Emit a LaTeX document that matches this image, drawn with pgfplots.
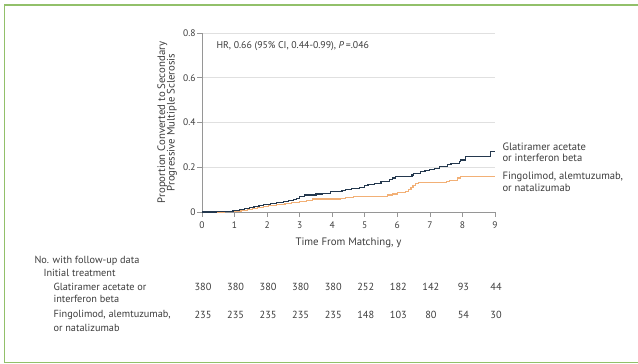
\documentclass[border=0pt]{standalone}
\usepackage{pgfplots}
\pgfplotsset{compat=1.18}
\usepackage{pgfplotstable}
\usepackage{fontspec}
\setmainfont{PT Sans}
\definecolor{framegreen}{RGB}{146,192,106}
\definecolor{glat}{RGB}{36,56,78}
\definecolor{fingo}{RGB}{242,176,118}
\definecolor{txt}{RGB}{60,60,60}
\definecolor{axgray}{RGB}{150,150,150}

\pgfplotstableread{
x y
0 0
0.45 0.003
0.95 0.005
1.15 0.01
1.3 0.014
1.45 0.02
1.6 0.025
1.75 0.03
1.9 0.035
2.1 0.038
2.3 0.041
2.5 0.046
2.65 0.05
2.8 0.056
2.9 0.061
3.0 0.068
3.15 0.076
3.5 0.08
3.7 0.083
3.95 0.09
4.3 0.096
4.4 0.101
4.6 0.106
4.85 0.11
5.0 0.118
5.1 0.124
5.3 0.128
5.5 0.135
5.75 0.145
5.85 0.152
5.95 0.158
6.45 0.165
6.5 0.173
6.7 0.18
6.85 0.185
7.0 0.19
7.15 0.196
7.3 0.205
7.55 0.212
7.65 0.217
7.9 0.225
7.95 0.232
8.1 0.247
8.85 0.27
9.0 0.27
}\glatdata

\pgfplotstableread{
x y
0 0
0.7 0.002
1.2 0.005
1.4 0.01
1.55 0.015
1.7 0.02
1.9 0.025
2.05 0.029
2.3 0.033
2.55 0.038
2.75 0.043
3.0 0.048
3.2 0.053
3.4 0.058
4.25 0.062
4.4 0.065
4.65 0.068
4.95 0.071
5.7 0.076
5.85 0.08
6.0 0.088
6.25 0.092
6.35 0.1
6.42 0.11
6.48 0.12
6.55 0.128
6.65 0.131
7.5 0.135
7.6 0.142
7.85 0.152
7.95 0.16
9.0 0.16
}\fingodata

\begin{document}
\begin{tikzpicture}[x=1pt,y=1pt,font=\fontsize{10.3}{12}\selectfont,text=txt]
\useasboundingbox (0,0) rectangle (638,364);
% frame (open at the right)
\draw[framegreen, line width=1.4pt] (660,359) -- (4.5,359) -- (4.5,1.5) -- (660,1.5);

\begin{axis}[
  at={(202pt,152pt)}, anchor=south west,
  scale only axis, width=293pt, height=179pt,
  xmin=0, xmax=9, ymin=0, ymax=0.8,
  axis x line*=bottom, axis y line*=left,
  axis line style={-, axgray, line width=0.6pt},
  xtick={0,1,...,9}, ytick={0,0.2,0.4,0.6,0.8},
  yticklabels={0,0.2,0.4,0.6,0.8},
  tick align=outside, major tick length=5pt,
  tick style={axgray, line width=0.6pt},
  ymajorgrids, grid style={black!12, line width=0.6pt},
  /pgf/number format/assume math mode=true,
  ticklabel style={font=\fontsize{9.5}{11}\selectfont, text=txt},
  xticklabel style={yshift=-1pt},
  yticklabel style={xshift=2pt},
  xlabel={Time From Matching, y},
  xlabel style={font=\fontsize{10.8}{12}\selectfont, text=txt, yshift=-3pt},
  ylabel={\begin{tabular}{c}Proportion Converted to Secondary\\[-2.5pt]Progressive Multiple Sclerosis\end{tabular}},
  ylabel style={font=\fontsize{10.8}{12}\selectfont, text=txt, yshift=-2pt},
  clip=false,
]
\addplot[const plot, fingo, line width=1.2pt] table[x=x,y=y] {\fingodata};
\addplot[const plot, glat, line width=1.2pt] table[x=x,y=y] {\glatdata};
\end{axis}

\node[anchor=west, font=\fontsize{9.8}{12}\selectfont] at (213,364-45.7) {HR, 0.66 (95\% CI, 0.44-0.99), \textit{P}\,=.046};

\node[anchor=west, font=\fontsize{10.6}{12}\selectfont] at (499,364-146.7) {Glatiramer acetate};
\node[anchor=west, font=\fontsize{10.6}{12}\selectfont] at (499,364-158) {or interferon beta};
\node[anchor=west, font=\fontsize{10.6}{12}\selectfont] at (499,364-176.7) {Fingolimod, alemtuzumab,};
\node[anchor=west, font=\fontsize{10.6}{12}\selectfont] at (499,364-188.3) {or natalizumab};

% numbers at risk
\foreach \i/\n in {0/380,1/380,2/380,3/380,4/380,5/252,6/182,7/142,8/93,9/44}
  \node at ({203+32.5556*\i},364-286.7) {\n};
\foreach \i/\n in {0/235,1/235,2/235,3/235,4/235,5/148,6/103,7/80,8/54,9/30}
  \node at ({203+32.5556*\i},364-315) {\n};

\node[anchor=west] at (31,364-260.7) {No. with follow-up data};
\node[anchor=west] at (40,364-272.7) {Initial treatment};
\node[anchor=west] at (50,364-286.7) {Glatiramer acetate or};
\node[anchor=west] at (50,364-299) {interferon beta};
\node[anchor=west] at (50,364-315) {Fingolimod, alemtuzumab,};
\node[anchor=west] at (50,364-327.7) {or natalizumab};
\end{tikzpicture}
\end{document}
